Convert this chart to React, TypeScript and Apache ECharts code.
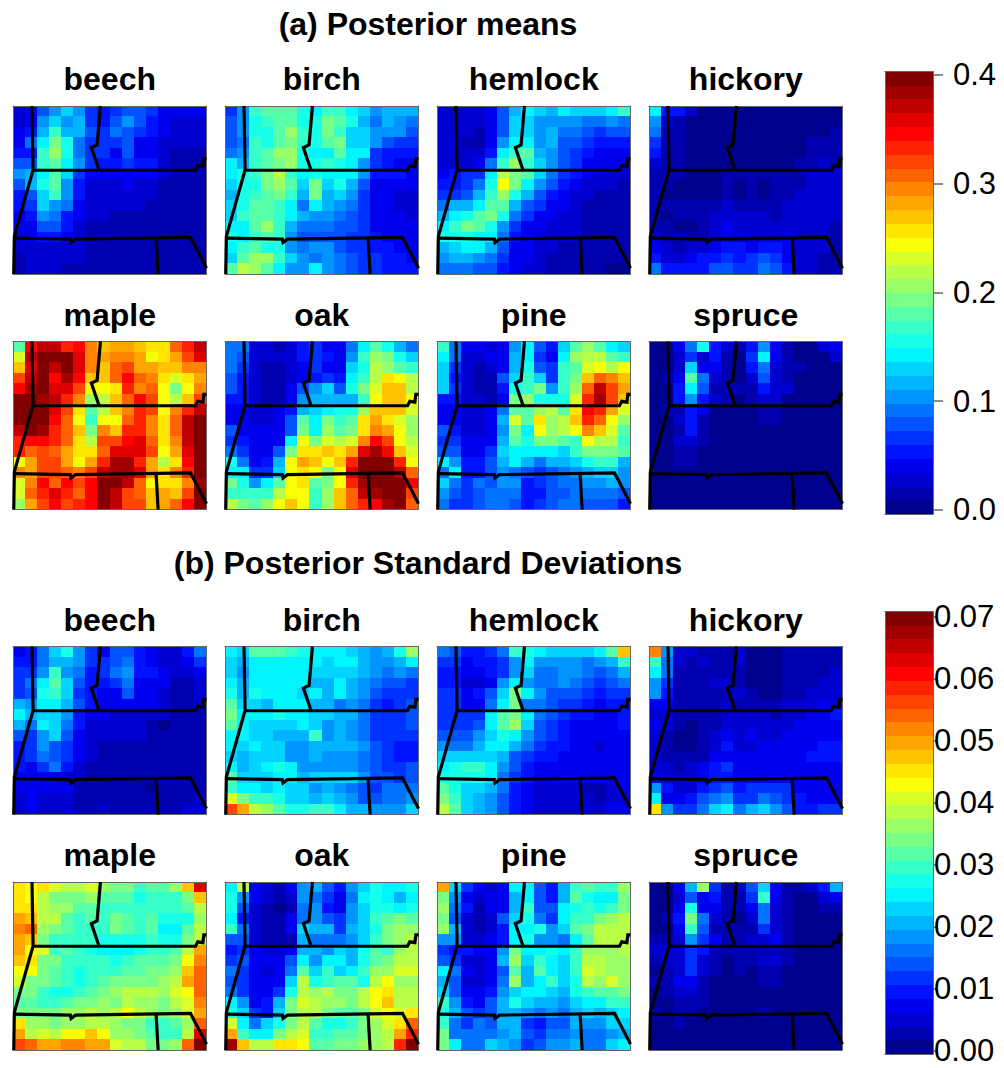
import React, { useEffect, useRef } from "react";
import * as echarts from "echarts";

// Every cell below is the colour-band number (0-31); a band number
// stands for the value at the middle of that band of the colour bar.
const SPECIES = ["beech", "birch", "hemlock", "hickory", "maple", "oak", "pine", "spruce"];
const MEAN_TICKS = [0, 0.1, 0.2, 0.3, 0.4];
const SD_TICKS = [0, 0.01, 0.02, 0.03, 0.04, 0.05, 0.06, 0.07];
const MEAN_BAND = 0.0125;
const SD_BAND = 0.0022;

const beechMean = [
  [2,3,6,8,10,8,5,4,5,6,6,5,3,3,3,3],
  [2,3,8,10,8,9,5,4,6,8,6,4,3,2,2,2],
  [3,4,9,13,9,9,6,5,7,6,5,4,3,2,2,2],
  [3,7,11,15,12,7,5,5,5,6,3,3,2,2,2,2],
  [4,4,13,16,12,7,5,5,3,6,3,3,2,1,1,1],
  [6,6,13,14,11,8,5,4,4,5,4,4,2,1,1,1],
  [8,9,11,14,10,5,3,3,3,3,3,3,2,1,1,1],
  [6,9,12,14,8,4,2,2,2,3,2,2,1,1,1,1],
  [4,6,10,13,8,4,2,2,2,2,2,2,1,1,1,1],
  [4,5,10,8,7,3,2,2,2,2,2,1,1,1,1,1],
  [3,4,8,7,4,3,2,2,1,1,1,1,1,1,1,1],
  [3,3,6,6,4,2,1,1,1,1,1,1,1,1,1,1],
  [2,3,4,4,3,2,1,1,1,1,1,1,1,1,1,1],
  [2,2,2,2,2,2,1,1,1,1,1,1,1,1,1,1],
  [1,2,2,2,2,2,1,1,1,1,1,1,1,1,1,1],
  [1,2,2,2,1,1,1,1,1,1,1,1,1,1,1,1],
];
const birchMean = [
  [5,8,13,14,14,14,12,11,13,13,11,10,8,9,9,9],
  [6,8,12,13,14,14,12,12,15,14,12,9,7,9,8,7],
  [6,8,12,12,14,16,13,12,15,13,10,10,8,8,8,6],
  [6,7,13,12,14,15,13,12,14,15,10,10,8,6,5,5],
  [7,8,13,14,16,16,12,11,11,14,11,11,5,4,4,4],
  [11,9,13,14,15,16,12,12,13,12,11,8,5,4,3,3],
  [11,12,13,15,17,13,11,12,11,11,11,8,4,4,4,3],
  [10,12,12,15,16,14,10,15,10,12,9,6,3,3,3,3],
  [9,12,13,14,15,13,9,15,9,10,8,5,3,3,2,2],
  [10,12,14,14,13,11,7,11,9,8,7,5,3,3,2,2],
  [10,13,14,14,13,11,9,8,8,7,6,5,3,3,3,2],
  [11,11,14,16,13,9,7,7,7,6,6,5,3,3,3,3],
  [12,11,13,14,13,8,6,6,6,6,5,5,4,3,3,3],
  [11,13,14,12,12,8,7,8,8,6,5,5,4,4,3,3],
  [10,14,16,16,13,10,8,7,8,7,6,5,5,4,4,3],
  [14,17,16,14,11,8,8,11,8,7,6,5,5,4,4,4],
];
const hemlockMean = [
  [2,2,2,2,3,6,9,11,10,9,11,10,10,10,11,13],
  [2,2,2,2,3,6,10,10,8,8,8,8,7,7,8,7],
  [2,2,2,1,3,6,10,10,8,9,7,7,6,5,6,6],
  [2,2,1,1,3,8,11,11,8,9,6,6,5,4,4,4],
  [2,2,2,2,4,11,13,14,9,8,6,5,4,3,3,3],
  [2,2,2,3,7,13,16,13,10,8,6,5,3,3,3,3],
  [3,4,5,5,11,17,15,14,10,7,5,4,3,2,2,2],
  [4,4,5,7,12,19,15,11,8,6,4,3,2,2,2,1],
  [5,5,6,9,13,16,12,9,6,4,3,2,2,1,1,1],
  [7,9,9,11,14,14,9,6,5,3,3,2,1,1,1,1],
  [9,11,12,14,15,12,7,5,3,3,2,2,1,1,1,1],
  [11,13,15,14,12,8,5,3,3,2,2,2,1,1,1,1],
  [12,12,12,11,11,7,4,3,2,2,2,2,1,1,1,1],
  [9,10,11,11,9,6,3,3,2,2,1,1,1,1,1,1],
  [8,9,9,8,7,5,3,3,2,1,1,1,1,1,1,1],
  [7,7,7,6,6,4,3,2,2,1,1,1,1,1,0,0],
];
const hickoryMean = [
  [11,4,4,2,0,0,0,0,0,0,0,0,0,0,0,0],
  [8,2,1,0,0,0,0,0,0,0,0,0,0,0,0,0],
  [7,1,1,0,0,0,0,0,0,0,0,0,0,0,0,1],
  [5,1,1,0,0,0,0,0,0,0,0,0,0,1,1,1],
  [4,1,1,0,0,0,0,0,0,0,0,0,0,1,1,1],
  [2,1,1,0,0,0,0,0,0,0,0,0,1,1,2,1],
  [1,1,1,0,0,0,1,1,1,1,1,1,1,2,2,2],
  [1,1,0,0,0,0,1,0,1,0,1,1,1,2,2,2],
  [1,0,0,0,0,0,1,0,1,0,1,1,2,2,2,2],
  [1,1,1,1,1,1,2,1,1,1,1,2,2,2,2,2],
  [1,0,1,1,1,2,2,2,2,2,1,2,2,2,2,2],
  [1,1,0,0,1,2,3,2,2,2,2,2,2,2,2,1],
  [2,1,1,1,1,2,3,2,2,2,2,3,2,2,2,1],
  [3,2,1,2,2,3,4,4,3,4,4,3,2,2,2,1],
  [4,2,2,3,4,4,5,4,5,6,5,3,2,2,1,1],
  [7,4,4,4,4,6,6,5,5,7,6,4,2,2,1,1],
];
const mapleMean = [
  [14,27,29,29,26,27,23,21,22,22,21,20,20,24,26,29],
  [18,29,31,31,31,28,23,22,23,23,22,19,20,22,25,28],
  [21,28,31,29,31,28,23,21,24,25,22,22,21,21,23,23],
  [25,29,31,27,30,27,21,21,24,27,24,23,20,18,20,22],
  [27,30,31,28,28,25,19,19,20,26,23,24,19,15,19,23],
  [31,31,30,29,26,23,16,17,21,24,27,25,19,17,21,25],
  [31,31,31,28,25,20,14,17,21,23,26,25,19,23,26,29],
  [31,31,31,27,24,19,13,19,19,24,26,23,20,24,29,31],
  [29,31,30,26,24,21,15,23,21,26,26,23,20,24,29,31],
  [26,27,27,26,24,20,17,25,25,27,28,24,20,23,29,31],
  [26,24,25,24,22,20,20,24,28,28,28,25,19,22,28,31],
  [19,22,25,25,22,19,22,26,30,30,26,22,17,20,27,31],
  [23,22,25,25,24,23,25,29,30,30,28,22,20,23,26,31],
  [18,23,27,24,27,25,27,31,31,29,24,19,20,20,23,30],
  [18,24,26,28,26,24,27,31,29,25,24,21,22,21,25,31],
  [16,22,25,27,25,26,27,31,29,25,25,21,22,24,27,31],
];
const oakMean = [
  [7,7,2,2,1,2,4,5,3,3,7,11,14,12,9,7],
  [7,6,2,2,2,2,4,5,4,3,8,13,16,15,12,10],
  [7,5,2,1,1,2,3,5,3,3,10,12,17,16,14,13],
  [6,4,2,1,1,2,3,4,5,4,11,13,17,20,19,17],
  [6,4,2,1,1,3,6,8,10,6,12,15,18,21,21,17],
  [4,4,2,1,1,3,8,9,9,9,9,13,19,21,21,19],
  [3,3,2,2,3,4,9,10,11,12,12,16,21,21,21,18],
  [3,3,2,2,3,6,14,11,15,13,14,20,22,20,18,16],
  [6,3,3,3,3,6,15,11,16,14,15,20,23,22,19,16],
  [5,4,3,3,3,11,19,15,18,17,18,23,27,25,19,17],
  [7,5,3,3,6,15,20,20,21,20,22,28,30,27,21,18],
  [12,7,3,4,9,19,22,21,19,21,26,31,31,31,26,19],
  [11,11,5,5,10,19,20,19,15,19,28,31,31,31,29,24],
  [15,12,8,11,14,19,20,14,15,19,26,30,31,31,31,27],
  [13,13,13,13,17,19,19,13,16,21,24,29,30,31,31,25],
  [17,15,14,16,19,21,19,13,16,21,24,26,27,30,31,24],
];
const pineMean = [
  [13,7,3,3,2,3,8,11,6,4,10,14,16,14,11,10],
  [11,7,2,2,3,3,9,11,5,3,11,16,17,17,14,13],
  [10,5,2,1,2,3,9,12,6,5,13,14,18,19,17,19],
  [10,4,2,1,1,6,10,13,10,5,13,15,21,24,23,21],
  [10,5,2,1,1,4,12,13,15,8,13,16,24,29,25,22],
  [4,4,2,2,1,3,15,16,12,12,12,18,26,30,25,21],
  [3,3,2,2,3,7,14,14,16,17,14,20,27,26,22,18],
  [3,3,2,2,3,9,18,14,20,16,17,21,26,24,19,16],
  [6,4,2,2,3,8,15,11,19,16,17,19,23,21,18,14],
  [5,5,3,3,3,9,14,12,15,15,14,13,19,17,17,13],
  [6,6,3,3,5,10,11,11,11,11,10,13,15,15,15,14],
  [11,8,4,4,6,9,11,9,7,9,9,10,12,13,13,9],
  [7,11,4,4,6,8,7,6,5,6,7,8,9,10,10,8],
  [10,7,5,7,6,8,8,4,5,6,7,7,8,8,9,8],
  [8,6,5,6,7,7,7,4,4,6,6,7,7,7,7,6],
  [7,5,5,6,7,7,6,4,5,6,7,7,6,6,6,4],
];
const spruceMean = [
  [0,0,3,7,12,4,2,1,4,8,3,1,0,0,2,3],
  [0,0,2,5,2,4,1,0,5,11,3,1,0,0,0,2],
  [0,0,2,10,3,3,1,0,4,7,2,1,1,0,0,0],
  [0,1,3,14,7,2,1,0,2,6,2,1,0,0,0,0],
  [0,0,4,11,6,1,1,1,1,4,2,2,0,0,0,0],
  [0,0,4,8,4,2,1,0,1,2,2,0,0,0,0,0],
  [0,1,1,4,3,0,0,0,0,1,1,0,0,0,0,0],
  [0,0,2,4,1,0,0,0,0,1,1,0,0,0,0,0],
  [0,0,1,4,1,0,0,0,0,0,0,0,0,0,0,0],
  [0,0,2,2,1,0,0,0,0,0,0,0,0,0,0,0],
  [0,0,1,1,0,0,0,0,0,0,0,0,0,0,0,0],
  [0,0,1,1,0,0,0,0,0,0,0,0,0,0,0,0],
  [0,0,0,0,0,0,0,0,0,0,0,0,0,0,0,0],
  [0,0,0,0,0,0,0,0,0,0,0,0,0,0,0,0],
  [0,0,0,0,0,0,0,0,0,0,0,0,0,0,0,0],
  [0,0,0,0,0,0,0,0,0,0,0,0,0,0,0,0],
];
const beechSd = [
  [3,4,7,10,12,8,5,3,6,6,4,3,2,2,4,7],
  [4,4,7,9,9,8,5,5,6,7,4,3,2,2,3,5],
  [5,5,8,13,8,7,4,5,7,8,4,4,3,2,2,3],
  [5,7,11,14,10,6,4,4,5,7,3,3,3,1,1,2],
  [5,6,12,13,10,5,4,3,3,6,3,3,2,1,1,2],
  [9,8,11,11,9,6,4,3,3,3,3,3,2,1,1,2],
  [11,9,10,10,8,4,3,3,2,2,2,2,2,1,1,1],
  [9,7,11,10,7,4,2,2,2,2,2,1,0,1,1,1],
  [6,5,8,10,6,3,2,2,2,2,2,1,1,1,1,1],
  [4,5,8,6,5,3,2,1,1,1,1,1,1,1,1,1],
  [4,5,7,6,5,3,2,1,1,1,1,1,1,1,1,1],
  [4,3,5,7,4,2,1,1,1,1,1,1,1,1,1,1],
  [3,3,3,3,2,2,1,1,1,1,1,1,1,1,1,1],
  [3,3,3,3,3,1,1,1,1,1,1,0,1,1,1,1],
  [2,3,2,2,2,1,1,1,1,1,1,1,1,1,1,2],
  [2,3,2,2,2,1,1,2,1,1,1,1,1,1,2,2],
];
const birchSd = [
  [11,10,14,14,14,13,12,11,11,11,10,9,8,9,12,16],
  [10,9,11,11,11,11,11,11,10,11,11,9,8,8,9,11],
  [10,8,11,11,11,11,11,10,10,10,10,9,8,7,8,7],
  [11,9,11,11,11,11,11,9,9,11,9,8,7,6,6,5],
  [12,9,12,11,11,11,10,11,9,11,9,8,6,5,5,5],
  [14,10,10,9,11,11,11,9,9,7,8,7,5,4,5,6],
  [15,11,11,11,12,11,11,10,10,9,9,7,5,5,5,6],
  [14,11,10,10,10,10,11,10,8,9,8,7,5,5,5,6],
  [11,11,10,10,9,9,9,13,8,9,8,7,5,5,5,5],
  [11,10,11,10,10,8,8,9,9,9,9,8,6,5,4,4],
  [10,9,10,10,10,8,8,9,8,8,8,7,6,5,4,4],
  [11,9,10,11,12,11,8,8,8,8,8,7,6,5,5,6],
  [14,10,10,10,11,11,9,10,10,10,10,8,6,6,5,6],
  [13,11,11,10,11,10,10,8,9,8,7,6,5,7,7,7],
  [18,15,13,13,12,10,10,9,10,9,8,6,6,7,7,8],
  [25,22,17,16,14,12,12,13,13,11,9,9,8,8,8,10],
];
const hemlockSd = [
  [7,6,4,4,5,7,13,12,11,10,10,10,10,11,14,21],
  [5,5,3,4,4,5,8,11,8,8,8,8,7,8,9,13],
  [4,4,3,3,4,5,8,10,7,7,8,8,7,6,7,9],
  [4,4,2,2,3,8,11,8,7,7,8,7,6,5,6,7],
  [5,5,3,4,6,10,15,11,8,6,6,6,5,4,5,5],
  [5,5,3,3,7,11,15,7,7,6,5,5,4,3,4,4],
  [5,5,5,5,11,14,15,11,7,6,5,4,4,3,3,4],
  [5,5,5,6,11,14,16,10,6,5,4,3,3,3,3,4],
  [6,6,6,8,10,12,11,8,6,5,4,3,3,3,3,3],
  [8,7,7,9,11,11,9,7,5,4,4,3,3,2,3,3],
  [10,10,10,10,10,9,6,5,4,4,3,3,3,3,3,3],
  [11,12,13,13,11,8,6,4,3,3,3,3,3,3,3,3],
  [12,12,12,12,11,7,5,4,3,3,3,3,3,3,3,3],
  [14,12,10,10,9,7,4,3,2,2,2,2,1,1,2,3],
  [15,13,10,9,8,6,4,3,2,2,2,2,2,1,2,2],
  [17,14,10,9,8,6,4,3,2,2,2,2,2,2,3,3],
];
const hickorySd = [
  [23,8,2,2,1,1,1,2,0,0,0,1,1,1,1,1],
  [13,7,2,1,2,1,1,2,0,0,0,1,1,1,1,1],
  [11,7,1,1,1,1,1,1,0,0,0,1,1,1,1,2],
  [8,5,1,1,1,2,2,1,0,0,0,1,1,1,2,2],
  [8,4,1,1,1,1,1,2,1,0,0,1,1,2,2,2],
  [3,3,1,1,1,1,2,1,1,1,1,2,2,2,3,2],
  [2,2,1,1,1,1,2,2,2,2,1,2,2,3,3,4],
  [3,2,1,0,1,1,2,2,2,2,2,2,3,3,3,3],
  [2,1,0,0,1,2,3,2,3,2,2,3,3,3,3,3],
  [2,1,0,0,1,2,4,2,2,3,3,3,3,3,4,4],
  [2,1,1,1,1,3,3,3,3,3,3,3,3,4,4,4],
  [2,2,1,2,3,4,5,3,3,3,3,3,3,3,3,3],
  [3,2,2,2,3,4,4,3,3,3,3,3,3,3,3,3],
  [8,4,2,2,4,5,6,4,5,5,5,5,3,3,3,3],
  [11,3,3,4,6,7,8,5,5,7,6,5,4,3,3,3],
  [20,8,5,5,7,10,11,7,9,10,8,6,4,4,5,5],
];
const mapleSd = [
  [20,19,20,18,17,17,18,16,15,15,13,14,14,16,21,28],
  [20,19,17,15,15,15,16,14,14,14,12,13,13,13,15,21],
  [20,20,17,16,16,14,14,13,13,13,13,13,13,13,14,17],
  [22,21,17,17,14,13,14,13,15,14,13,14,12,12,12,16],
  [23,24,16,15,14,13,13,13,15,14,13,14,11,11,14,17],
  [22,21,15,13,13,13,13,12,12,12,12,13,12,12,15,17],
  [22,19,18,13,14,13,12,11,11,11,12,13,13,14,17,22],
  [21,20,15,15,13,13,13,13,12,13,14,14,14,15,19,23],
  [19,19,15,14,13,12,13,13,13,14,14,15,15,16,21,24],
  [18,15,15,14,13,12,13,14,15,15,15,15,16,17,22,24],
  [15,15,13,12,12,13,14,15,16,17,17,17,16,18,19,24],
  [14,14,13,13,14,15,15,16,15,17,16,16,15,17,18,23],
  [15,15,15,15,16,16,17,16,17,19,17,16,15,16,18,22],
  [20,16,16,15,16,16,17,17,16,15,15,13,13,14,16,24],
  [22,17,18,17,19,19,21,19,16,16,15,14,13,13,17,28],
  [25,24,22,22,23,23,22,22,18,17,17,15,15,16,24,31],
];
const oakSd = [
  [11,17,3,2,1,3,8,9,6,4,8,10,12,11,11,12],
  [12,8,3,2,1,2,8,7,5,3,7,11,12,11,9,11],
  [12,6,2,1,0,1,7,8,4,3,8,10,12,12,11,12],
  [11,4,2,1,1,3,7,8,6,5,8,10,13,14,15,14],
  [13,7,2,1,1,3,10,9,9,5,9,10,12,15,16,16],
  [6,6,2,1,1,1,9,7,7,7,8,10,13,15,16,17],
  [4,5,3,2,2,3,9,9,8,10,9,12,14,13,16,17],
  [5,6,3,3,3,6,11,8,11,11,9,12,14,15,17,17],
  [7,5,3,2,3,7,14,10,13,10,11,13,16,16,18,18],
  [6,5,3,3,3,10,17,12,13,14,14,12,17,19,16,16],
  [7,5,3,3,5,12,17,16,17,15,15,17,19,20,17,17],
  [11,8,3,4,9,15,18,17,16,16,15,17,19,21,17,17],
  [12,10,5,4,10,15,17,17,15,14,14,15,18,19,18,20],
  [18,11,7,10,12,15,17,14,12,12,13,15,16,18,20,24],
  [22,13,11,11,15,17,18,13,13,14,14,15,16,17,22,26],
  [30,21,17,17,20,20,19,14,14,15,15,16,16,17,26,31],
];
const pineSd = [
  [22,10,5,3,2,3,11,11,6,4,9,13,14,13,13,16],
  [15,8,3,2,3,3,9,11,6,4,9,14,12,11,11,15],
  [16,7,4,1,3,3,9,13,6,6,11,12,13,12,13,15],
  [15,6,2,1,2,6,10,12,7,5,11,13,13,15,16,17],
  [16,9,2,1,2,4,11,11,12,8,10,14,15,17,17,17],
  [8,8,2,2,3,4,11,12,8,8,7,11,14,17,17,17],
  [5,4,4,3,3,8,15,11,11,12,11,13,16,16,16,17],
  [6,5,2,2,3,9,16,10,13,11,10,13,17,17,16,16],
  [11,7,3,2,3,6,14,9,14,11,10,13,18,17,16,16],
  [9,6,2,2,3,7,16,9,11,13,10,12,17,16,18,16],
  [10,6,3,3,4,8,10,11,11,10,9,12,13,14,14,15],
  [13,8,4,3,6,9,12,10,9,9,8,10,11,11,13,13],
  [12,9,6,5,6,9,9,8,7,8,7,9,10,9,10,11],
  [13,7,5,7,6,9,9,5,4,6,6,9,8,8,10,10],
  [15,7,7,7,7,8,9,6,5,7,7,8,7,7,8,9],
  [15,11,7,7,10,9,8,5,6,8,8,9,7,7,10,11],
];
const spruceSd = [
  [0,0,3,9,16,5,1,2,6,10,3,1,1,2,4,9],
  [0,0,2,6,3,4,1,1,5,13,3,1,0,0,2,3],
  [0,0,3,12,3,3,1,1,3,7,2,1,0,0,1,1],
  [0,1,4,15,7,2,1,0,2,7,2,1,0,0,0,0],
  [0,0,3,13,6,1,1,1,1,5,2,1,0,0,0,0],
  [1,1,2,8,5,3,1,1,2,2,3,1,0,0,0,0],
  [2,2,2,5,4,1,1,1,1,1,1,1,0,0,0,0],
  [1,2,2,5,2,1,0,1,1,2,2,1,0,0,0,0],
  [0,1,2,5,2,1,0,1,0,1,1,0,0,0,0,0],
  [1,1,3,3,1,0,0,0,0,1,1,0,0,0,0,0],
  [0,1,2,2,1,0,0,0,0,0,0,0,0,0,0,0],
  [0,0,1,1,1,0,0,0,0,0,0,0,0,0,0,0],
  [1,0,1,1,0,0,0,0,0,1,0,0,0,0,0,0],
  [0,0,1,0,0,0,0,0,0,0,0,0,0,0,0,0],
  [0,0,0,0,0,0,0,0,0,0,0,0,0,0,0,0],
  [0,0,0,0,0,0,0,0,0,0,0,0,0,0,0,0],
];
const MEAN_PANELS = [beechMean, birchMean, hemlockMean, hickoryMean, mapleMean, oakMean, pineMean, spruceMean];
const SD_PANELS = [beechSd, birchSd, hemlockSd, hickorySd, mapleSd, oakSd, pineSd, spruceSd];

// State borders, in cell units across and down each panel.
const BORDERS: number[][][] = [
  [[1.57, 0], [1.66, 6.09], [0.11, 12.42], [0.06, 16]],
  [[1.66, 6.12], [15.09, 6.12], [15.28, 5.7], [15.7, 5.77], [15.78, 5.04], [16, 5.04]],
  [[7.23, 0], [6.95, 3.71], [6.48, 3.96], [7.12, 6.12]],
  [[0.11, 12.58], [4.74, 12.68], [4.8, 13.0], [5.16, 12.68], [14.68, 12.52], [16, 15.44]],
  [[11.83, 12.58], [12, 16]],
];

function jetColour(k: number): string {
  const i = 1 + (k * 63) / 31;
  const r = i <= 24 ? 0 : i <= 40 ? (i - 24) / 16 : i <= 56 ? 1 : (72 - i) / 16;
  const g = i <= 8 ? 0 : i <= 24 ? (i - 8) / 16 : i <= 40 ? 1 : i <= 56 ? (56 - i) / 16 : 0;
  const b = i <= 8 ? 0.5 + i / 16 : i <= 24 ? 1 : i <= 40 ? (40 - i) / 16 : 0;
  const c = (v: number) => Math.round(v * 255);
  return `rgb(${c(r)},${c(g)},${c(b)})`;
}

const FONT = "'Liberation Sans', Arial, sans-serif";
const COL_LEFT = [13, 225, 437, 649];
const ROW_TOP = [106, 341.5, 646.5, 882];
const PANEL_W = 193.5;
const PANEL_H = 168;
const BOX = "#666";
const BANDS = Array.from({ length: 32 }, (_, k) => k);
const CELLS = Array.from({ length: 16 }, (_, k) => String(k));

function buildOption() {
  const grid: any[] = [];
  const xAxis: any[] = [];
  const yAxis: any[] = [];
  const heat: any[] = [];
  const lines: any[] = [];
  const title: any[] = [];
  const line = { show: true, onZero: false, lineStyle: { color: BOX, width: 1 } };

  const addPanel = (rows: number[][], band: number, name: string, left: number, top: number) => {
    const g = grid.length;
    grid.push({ left, top, width: PANEL_W, height: PANEL_H, containLabel: false });
    const common = { gridIndex: g, axisTick: { show: false }, axisLabel: { show: false }, splitLine: { show: false }, axisLine: line, z: 3 };
    xAxis.push({ ...common, type: "category", data: CELLS, position: "bottom" });
    xAxis.push({ ...common, type: "value", min: 0, max: 16, position: "top" });
    yAxis.push({ ...common, type: "category", data: CELLS, inverse: true, position: "left" });
    yAxis.push({ ...common, type: "value", min: 0, max: 16, inverse: true, position: "right" });
    const data: number[][] = [];
    rows.forEach((row, y) => row.forEach((b, x) => data.push([x, y, +((b + 0.5) * band).toFixed(5)])));
    heat.push({ type: "heatmap", name, xAxisIndex: 2 * g, yAxisIndex: 2 * g, data, silent: true, progressive: 0, z: 2 });
    BORDERS.forEach((pts) =>
      lines.push({
        type: "line", name: "state border", xAxisIndex: 2 * g + 1, yAxisIndex: 2 * g + 1, data: pts,
        showSymbol: false, silent: true, z: 4,
        lineStyle: { color: "#000", width: 3.2, join: "miter" },
      })
    );
    title.push({
      text: name.split(" ")[0], left: left + PANEL_W / 2, top: top - 43, textAlign: "center", padding: 0,
      textStyle: { fontFamily: FONT, fontWeight: "bold", fontSize: 32, color: "#000" },
    });
  };

  [0, 1].forEach((r) =>
    SPECIES.forEach((s, i) => {
      const panels = r === 0 ? MEAN_PANELS : SD_PANELS;
      addPanel(panels[i], r === 0 ? MEAN_BAND : SD_BAND, `${s} ${r === 0 ? "mean" : "sd"}`, COL_LEFT[i % 4], ROW_TOP[r * 2 + (i >= 4 ? 1 : 0)]);
    })
  );

  const addBar = (ticks: number[], band: number, top: number, min: number, max: number, digits: number, tickLen: number, margin: number) => {
    const g = grid.length;
    grid.push({ left: 885, top, width: 48, height: 442.5 });
    const hidden = { gridIndex: g, axisTick: { show: false }, axisLabel: { show: false }, splitLine: { show: false }, axisLine: { show: false } };
    xAxis.push({ ...hidden, type: "category", data: ["c"], position: "bottom", axisLine: line, z: 3 });
    xAxis.push({ ...hidden, type: "category", data: ["c"], position: "top", axisLine: line, z: 3 });
    yAxis.push({ ...hidden, type: "category", data: BANDS.map(String), position: "left", axisLine: line, z: 3 });
    yAxis.push({
      gridIndex: g, type: "value", position: "right", min, max, splitLine: { show: false }, z: 3,
      axisLine: line,
      axisTick: { show: true, length: tickLen, lineStyle: { color: BOX, width: 1.5 }, customValues: ticks },
      axisLabel: {
        show: true, margin, fontFamily: FONT, fontSize: 31, color: "#000", customValues: ticks,
        verticalAlign: "middle", padding: [0, 0, 3, 0],
        formatter: (v: number) => v.toFixed(digits),
      },
    });
    heat.push({
      type: "heatmap", name: "colour bar", xAxisIndex: 2 * g, yAxisIndex: 2 * g, silent: true, progressive: 0, z: 2,
      data: BANDS.map((b) => [0, b, +((b + 0.5) * band).toFixed(5)]),
    });
  };
  addBar(MEAN_TICKS, MEAN_BAND, 71.5, -0.0037, 0.4032, 1, 10, 20);
  addBar(SD_TICKS, SD_BAND, 611.5, -0.0006, 0.0708, 2, 4, 1);

  const pieces = (band: number) =>
    BANDS.map((k) => ({ min: k * band, max: (k + 1) * band, color: jetColour(k) }));
  const visualMap = [
    { type: "piecewise", show: false, dimension: 2, seriesIndex: [0, 1, 2, 3, 4, 5, 6, 7, 16], pieces: pieces(MEAN_BAND) },
    { type: "piecewise", show: false, dimension: 2, seriesIndex: [8, 9, 10, 11, 12, 13, 14, 15, 17], pieces: pieces(SD_BAND) },
  ];

  const heading = { fontFamily: FONT, fontWeight: "bold", fontSize: 32, color: "#000" };
  title.push({ text: "(a) Posterior means", left: 428, top: 8, textAlign: "center", padding: 0, textStyle: heading });
  title.push({ text: "(b) Posterior Standard Deviations", left: 428, top: 547, textAlign: "center", padding: 0, textStyle: heading });

  return {
    animation: false, backgroundColor: "#fff", tooltip: { show: false }, legend: { show: false },
    title, grid, xAxis, yAxis, visualMap, series: [...heat, ...lines],
  };
}

export default function App() {
  const ref = useRef<HTMLDivElement>(null);
  useEffect(() => {
    const chart = echarts.init(ref.current!, null, { renderer: "svg" });
    chart.setOption(buildOption() as any);
    return () => chart.dispose();
  }, []);
  return (
    <>
      <style>{`.forest-map svg path:not([fill="none"]) { shape-rendering: crispEdges; }`}</style>
      <div className="forest-map" ref={ref} style={{ position: "absolute", left: 0, top: 0, width: 1004, height: 1068 }} />
    </>
  );
}
